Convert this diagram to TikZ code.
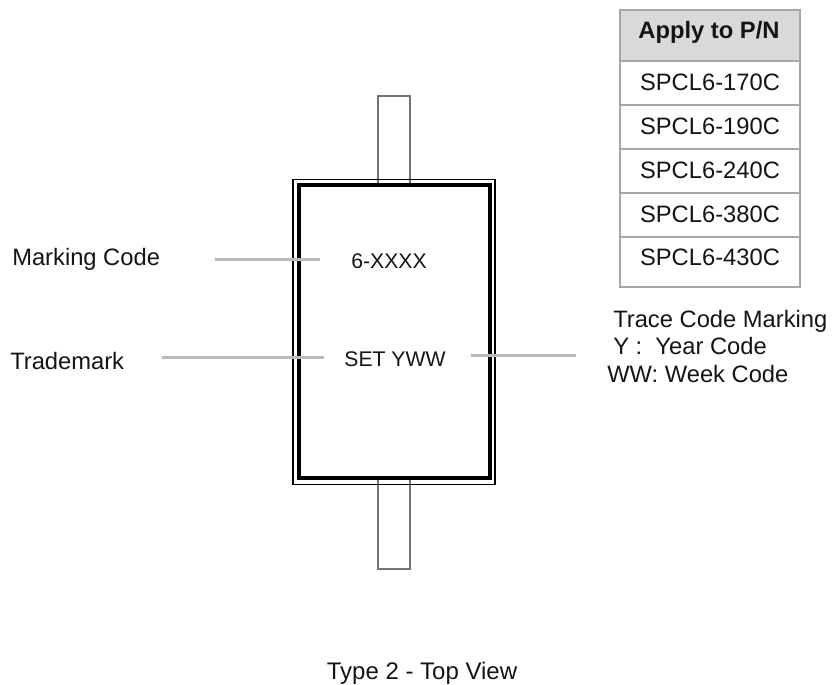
\documentclass[tikz,border=0pt]{standalone}
\usepackage{fontspec}
\setmainfont{Liberation Sans}
\usepackage{tikz}

\tikzset{
    px/.style={x=0.75pt, y=-0.75pt},
    bigtext/.style={font=\fontsize{17.8}{20}\selectfont, inner sep=0pt, text=black!92},
    smalltext/.style={font=\fontsize{15.9}{18}\selectfont, inner sep=0pt, text=black!92},
    lead/.style={draw=black!55, line width=0.8pt},
    leader/.style={draw=black!27, line width=1.6pt},
    tablerule/.style={draw=black!35, line width=1.3pt},
}

\begin{document}
\begin{tikzpicture}[px]
    \useasboundingbox (0,0) rectangle (832,685);

    % Leads above and below the body
    \draw[lead] (378,183) -- (378,96) -- (410,96) -- (410,183);
    \draw[lead] (378,480) -- (378,569) -- (410,569) -- (410,480);

    % Body of the part
    \node[draw, rectangle, line width=0.95pt, outer sep=0pt, minimum width=151.5pt, minimum height=228.75pt] (Outline) at (394,332.2) {};
    \node[draw, rectangle, line width=3pt, outer sep=0pt, minimum width=142.9pt, minimum height=219.75pt] (Body) at (394.75,331.5) {};

    % Marks on the body
    \node[smalltext, anchor=base] (MarkText) at (389,268.5) {6-XXXX};
    \node[smalltext, anchor=base] (TraceText) at (395,366) {SET YWW};

    % Labels
    \node[bigtext, anchor=base west] (MarkLabel) at (12,265) {Marking Code};
    \node[bigtext, anchor=base west] (BrandLabel) at (10,369) {Trademark};
    \node[bigtext, anchor=base west] (TraceLine1) at (613,327) {Trace Code Marking};
    \node[bigtext, anchor=base west] (TraceLine2) at (613,354) {Y :\ \ Year Code};
    \node[bigtext, anchor=base west] (TraceLine3) at (607,382) {WW: Week Code};
    \node[bigtext, anchor=base, font=\fontsize{18}{20}\selectfont] (Caption) at (422,679) {Type 2 - Top View};

    % Leader lines
    \coordinate (L1) at (215,259.5);
    \coordinate (L2) at (320,259.5);
    \coordinate (L3) at (162,357.5);
    \coordinate (L4) at (324,357.5);
    \coordinate (L5) at (471,355.5);
    \coordinate (L6) at (576,355.5);
    \draw[leader] (L1) -- (L2);
    \draw[leader] (L3) -- (L4);
    \draw[leader] (L5) -- (L6);

    % Table of part numbers
    \draw[tablerule, fill=black!15] (620,10) rectangle (800,61);
    \node[bigtext, anchor=base, font=\fontsize{17.8}{20}\selectfont\bfseries] (Head) at (709,39) {Apply to P/N};
    \foreach \i/\t/\b/\y/\v in {1/61/105/90/170, 2/105/149/134/190, 3/149/193/178/240, 4/193/237/222/380, 5/237/287/265/430} {
        \draw[tablerule] (620,\t) rectangle (800,\b);
        \node[bigtext, anchor=base] (PN\i) at (710,\y) {SPCL6-\v C};
    }
\end{tikzpicture}
\end{document}
